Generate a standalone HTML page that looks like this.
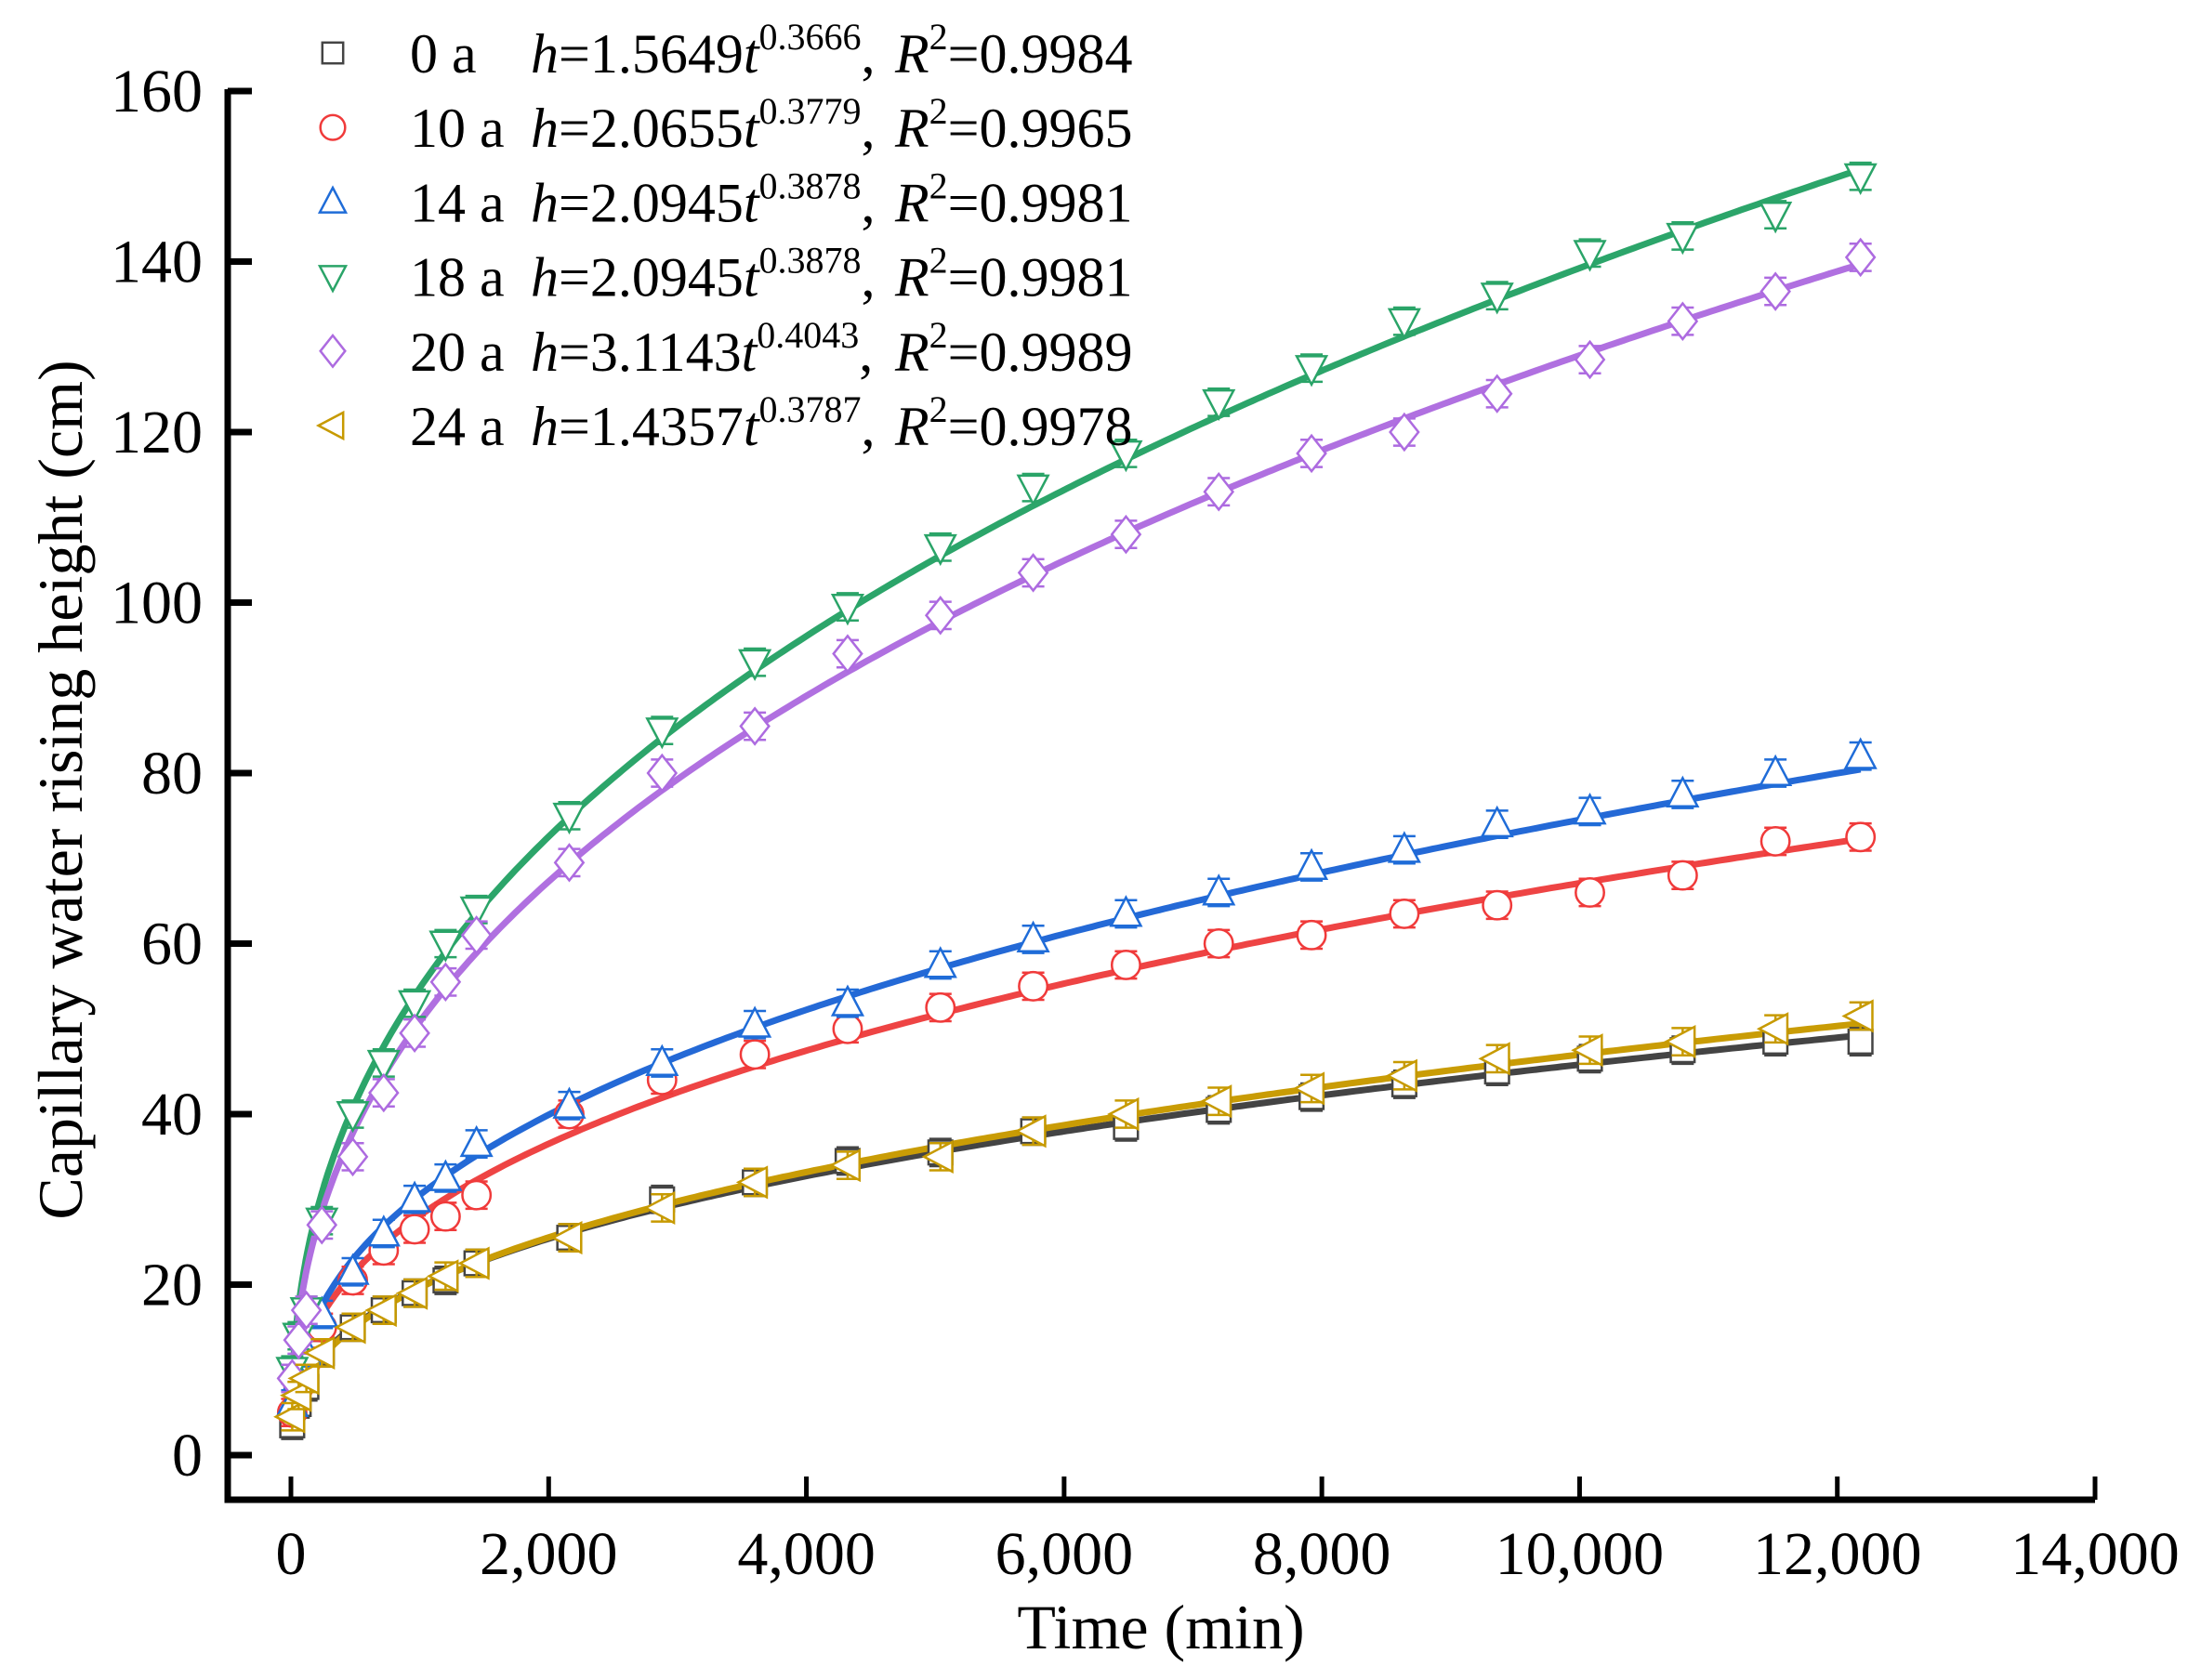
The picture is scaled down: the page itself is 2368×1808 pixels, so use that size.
<!DOCTYPE html>
<html><head><meta charset="utf-8"><style>
html,body{margin:0;padding:0;background:#fff;}
svg{display:block;font-family:"Liberation Serif",serif;}
</style></head><body>
<svg id="chart" width="2368" height="1808" viewBox="0 0 2368 1808" xmlns="http://www.w3.org/2000/svg">
<g id="marks"></g>
<g id="axes"></g>
<g id="legend"></g>
<text x="1249" y="1774" font-size="68" text-anchor="middle">Time (min)</text>
<text transform="translate(88,850) rotate(-90)" font-size="68" text-anchor="middle">Capillary water rising height (cm)</text>
</svg>
<script>
const times=[10,60,120,240,480,720,960,1200,1440,2160,2880,3600,4320,5040,5760,6480,7200,7920,8640,9360,10080,10800,11520,12180];
const s0a=[3.5,6,8,12,15,17,19,20.5,22.5,25.5,30,32,34.5,35.5,38,38.5,40.5,42,43.5,45,46.5,47.5,48.5,48.5];
const s10a=[5,8,11,15,20.5,24,26.5,28,30.5,40,44,47,50,52.5,55,57.5,60,61,63.5,64.5,66,68,72,72.5];
const s14a=[6,9,12,16.5,21.5,26,30,32.5,36.5,41,46,50.5,53,57.5,60.5,63.5,66,69,71,74,75.5,77.5,80,82];
const s18a=[10,14,17,27.5,40,46,53,60,64,75,85,93,99.5,106.5,113.5,117.5,123.5,127.5,133,136,141,143,145.5,150];
const s20a=[9,13.5,17,27,35,42.5,49.5,55.5,61,69.5,80,85.5,94,98.5,103.5,108,113,117.5,120,124.5,128.5,133,136.5,140.5];
const s24a=[4.5,7,9,12,15,17,19,21,22.5,25.5,29,32,34,35,38,40,41.5,43,44.5,46.5,47.5,48.5,50,51.5];
const fitA=[1.5649,2.0655,2.0945,3.34,3.1143,1.4357];
const fitB=[0.3666,0.3779,0.3878,0.405,0.4043,0.3787];
const xTicks=[0,2000,4000,6000,8000,10000,12000,14000];
const xTickLabels=["0","2,000","4,000","6,000","8,000","10,000","12,000","14,000"];
const yTicks=[0,20,40,60,80,100,120,140,160];
const seriesNames=["0 a","10 a","14 a","18 a","20 a","24 a"];
const legendEq=[["1.5649","0.3666","0.9984"],["2.0655","0.3779","0.9965"],["2.0945","0.3878","0.9981"],["2.0945","0.3878","0.9981"],["3.1143","0.4043","0.9989"],["1.4357","0.3787","0.9978"]];
const NS="http://www.w3.org/2000/svg";
const X=t=>313+t*(2254-313)/14000;
const Y=v=>1566-v*9.175;
const colors=["#444","#f03a3a","#1f6cd8","#2aa468","#ad6be0","#c79a00"];
const lineColors=["#444","#ee4444","#2469d6","#2ca56a","#b070e0","#c99c05"];
const shapes=["square","circle","up","down","diamond","left"];
const data=[s0a,s10a,s14a,s18a,s20a,s24a];
function mk(tag,attrs,parent){const e=document.createElementNS(NS,tag);for(const k in attrs)e.setAttribute(k,attrs[k]);parent.appendChild(e);return e;}
function marker(shape,cx,cy,r,color,parent){
  let e;
  if(shape==="square")e=mk("rect",{x:cx-r*0.8,y:cy-r*0.8,width:r*1.6,height:r*1.6},parent);
  else if(shape==="circle")e=mk("circle",{cx:cx,cy:cy,r:r*0.95},parent);
  else{let p;
    if(shape==="up")p=[[cx,cy-r*1.1],[cx+r,cy+r*0.8],[cx-r,cy+r*0.8]];
    else if(shape==="down")p=[[cx,cy+r*1.1],[cx+r,cy-r*0.8],[cx-r,cy-r*0.8]];
    else if(shape==="diamond")p=[[cx,cy-r*1.2],[cx+r*0.95,cy],[cx,cy+r*1.2],[cx-r*0.95,cy]];
    else p=[[cx-r*1.1,cy],[cx+r*0.8,cy-r],[cx+r*0.8,cy+r]];
    e=mk("polygon",{points:p.map(q=>q.join(",")).join(" ")},parent);}
  e.setAttribute("fill","#fff");e.setAttribute("stroke",color);e.setAttribute("stroke-width","2.5");
  return e;
}
const marks=document.getElementById("marks");
for(let s=0;s<6;s++){
  let d="";
  for(let t=5;t<=12180;t+=(t<300?5:40)){d+=(d?"L":"M")+X(t).toFixed(1)+","+Y(fitA[s]*Math.pow(t,fitB[s])).toFixed(1);}
  const p=mk("path",{d:d,fill:"none",stroke:lineColors[s],"stroke-width":"7"},marks);
  
  
}
for(let s=0;s<6;s++){
  const g=mk("g",{},marks);
  
  
  for(let i=0;i<times.length;i++){
    const cx=X(times[i]),cy=Y(data[s][i]),e=1.6*9.175;
    mk("path",{d:`M${cx},${cy-e}V${cy+e}M${cx-12},${cy-e}H${cx+12}M${cx-12},${cy+e}H${cx+12}`,stroke:colors[s],"stroke-width":"2.5",fill:"none"},g);
    const m=marker(shapes[s],cx,cy,16,colors[s],g);
    
    
  }
}
const ax=document.getElementById("axes");
mk("path",{d:"M245,96V1614H2254",fill:"none",stroke:"#000","stroke-width":"7"},ax);
for(let i=0;i<xTicks.length;i++){
  const x=X(xTicks[i]);
  mk("line",{x1:x,y1:1614,x2:x,y2:1589,stroke:"#000","stroke-width":"5"},ax);
  const t=mk("text",{x:x,y:1694,"font-size":"66","text-anchor":"middle"},ax);t.textContent=xTickLabels[i];
  
  
}
for(let i=0;i<yTicks.length;i++){
  const y=Y(yTicks[i]);
  mk("line",{x1:245,y1:y,x2:271,y2:y,stroke:"#000","stroke-width":"7"},ax);
  const t=mk("text",{x:218,y:y+22,"font-size":"66","text-anchor":"end"},ax);t.textContent=yTicks[i];
  
  
}
const lg=document.getElementById("legend");
for(let s=0;s<6;s++){
  const cy=57+s*80.2;
  const g=mk("g",{},lg);
  
  
  marker(shapes[s],358,cy,14,colors[s],g);
  const t1=mk("text",{x:441,y:cy+21,"font-size":"60"},g);t1.textContent=seriesNames[s];
  const t=mk("text",{x:571,y:cy+21,"font-size":"60"},g);
  t.innerHTML=`<tspan font-style="italic">h</tspan>=${legendEq[s][0]}<tspan font-style="italic">t</tspan><tspan font-size="40" dy="-25">${legendEq[s][1]}</tspan><tspan dy="25">, </tspan><tspan x="963" font-style="italic">R</tspan><tspan font-size="40" dy="-25">2</tspan><tspan dy="25">=${legendEq[s][2]}</tspan>`;
}
</script>
</body></html>
